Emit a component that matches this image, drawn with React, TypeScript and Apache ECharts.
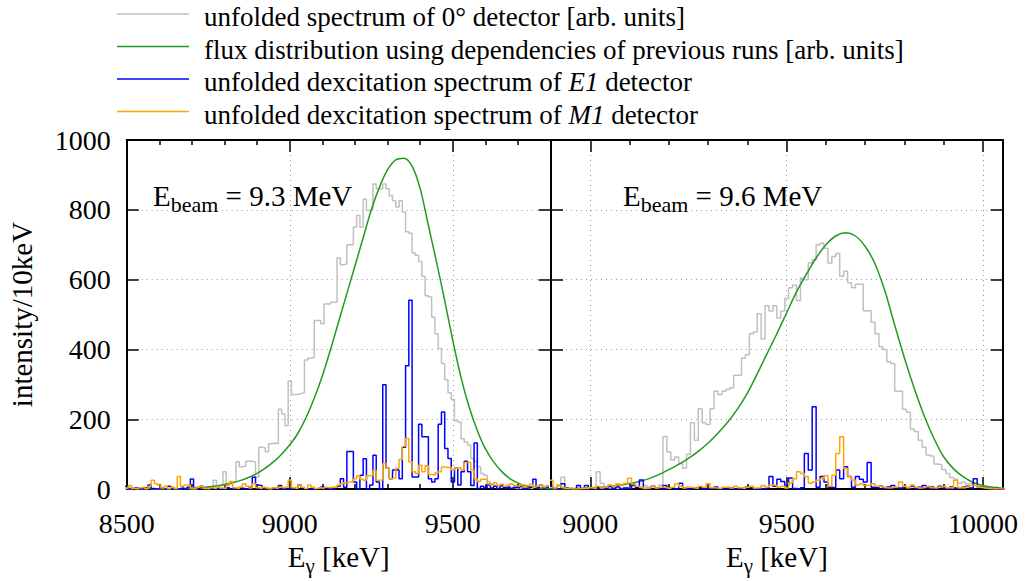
import React, { useEffect, useRef } from "react";
import * as echarts from "echarts";

// ---------- data ----------
const BIN = 10; // keV per histogram bin
const LEFT_FIRST = 8500; // centre of first bin, left panel (9.3 MeV)
const RIGHT_FIRST = 8900; // centre of first bin, right panel (9.6 MeV)

const leftGray = [
  2, 0, 3, 1, 0, 2, 0, 4, 1, 0,
  2, 3, 0, 1, 5, 2, 0, 3, 1, 4,
  0, 2, 6, 3, 2, 5, 6, 25, 6, 10,
  50, 12, 15, 20, 78, 64, 66, 80, 80, 78,
  35, 120, 118, 107, 130, 132, 130, 229, 215, 182,
  309, 271, 272, 274, 276, 370, 375, 377, 483, 483,
  474, 530, 530, 535, 535, 662, 643, 645, 700, 700,
  751, 784, 751, 831, 798, 800, 874, 860, 860, 874,
  860, 840, 826, 808, 826, 794, 737, 733, 676, 670,
  652, 610, 554, 550, 492, 445, 403, 360, 313, 276,
  257, 196, 192, 144, 135, 126, 88, 80, 64, 45,
  40, 22, 15, 10, 8, 6, 4, 7, 3, 5,
  2, 4, 6, 3, 2, 5, 3, 1, 4, 2,
];
const leftBlue = [
  8, 2, 0, 3, 0, 1, 4, 12, 2, 0,
  1, 3, 0, 8, 2, 0, 1, 3, 0, 5,
  29, 2, 0, 8, 1, 0, 3, 0, 2, 0,
  1, 4, 0, 2, 0, 3, 1, 0, 5, 34,
  12, 10, 0, 2, 0, 1, 3, 10, 0, 2,
  0, 3, 1, 12, 4, 0, 2, 0, 1, 3,
  6, 0, 2, 1, 4, 8, 30, 5, 108, 108,
  20, 0, 40, 87, 0, 12, 97, 20, 0, 299,
  60, 30, 55, 55, 30, 120, 353, 541, 35, 35,
  186, 150, 150, 30, 20, 30, 186, 221, 116, 88,
  20, 60, 12, 50, 80, 50, 10, 132, 2, 8,
  4, 12, 3, 8, 2, 10, 4, 6, 2, 5,
  3, 8, 2, 4, 6, 28, 3, 12, 4, 6,
];
const leftOrange = [
  3, 10, 2, 0, 4, 6, 2, 8, 25, 15,
  10, 3, 8, 2, 5, 2, 36, 8, 12, 12,
  3, 0, 5, 8, 2, 0, 4, 2, 6, 3,
  2, 10, 22, 4, 2, 6, 15, 8, 3, 15,
  4, 2, 6, 3, 0, 4, 2, 5, 3, 6,
  25, 4, 2, 12, 5, 2, 12, 6, 2, 4,
  2, 5, 4, 6, 5, 12, 15, 18, 20, 22,
  30, 38, 28, 25, 38, 38, 54, 25, 26, 73,
  60, 30, 32, 60, 85, 123, 145, 78, 50, 45,
  68, 50, 67, 42, 40, 46, 50, 63, 62, 62,
  55, 60, 62, 55, 76, 76, 55, 30, 22, 28,
  28, 15, 12, 18, 10, 14, 8, 12, 15, 10,
  8, 12, 6, 10, 14, 5, 8, 12, 6, 10,
];
// flux curve, read every 25 keV
const leftGreenE = [
  8600, 8625, 8650, 8675, 8700, 8725, 8750, 8775, 8800, 8825, 8850, 8875, 8900, 8925, 8950, 8975,
  9000, 9025, 9050, 9075, 9100, 9125, 9150, 9175, 9200, 9225, 9250, 9275, 9300, 9325, 9350, 9375,
  9400, 9425, 9450, 9475, 9500, 9525, 9550, 9575, 9600, 9625, 9650, 9675, 9700, 9725, 9750, 9775, 9800,
];
const leftGreenV = [
  0, 0.5, 1, 1.5, 2, 4, 6, 9, 13, 18, 25, 34, 45, 60, 78, 100,
  127, 160, 205, 260, 325, 400, 480, 560, 640, 720, 800, 865, 915, 943, 948, 925,
  860, 755, 650, 540, 425, 320, 235, 168, 115, 78, 50, 30, 17, 9, 5, 2, 1,
];

const rightGray = [
  5, 2, 8, 34, 3, 0, 2, 4, 1, 3,
  2, 5, 50, 17, 6, 3, 5, 2, 4, 6,
  3, 8, 5, 4, 10, 6, 8, 4, 12, 151,
  106, 83, 92, 73, 60, 100, 190, 140, 230, 190,
  185, 230, 280, 270, 280, 285, 290, 326, 326, 375,
  385, 445, 450, 502, 430, 525, 510, 525, 490, 510,
  546, 577, 584, 540, 605, 600, 648, 657, 700, 704,
  690, 648, 666, 675, 610, 624, 591, 577, 587, 587,
  511, 511, 478, 445, 408, 400, 365, 360, 280, 280,
  229, 220, 172, 165, 140, 120, 98, 95, 72, 70,
  56, 45, 33, 28, 17, 20, 15, 17, 10, 8,
  10, 6, 4, 5, 3, 2,
];
const rightBlue = [
  8, 2, 0, 15, 3, 0, 2, 10, 0, 10,
  2, 0, 4, 1, 0, 8, 2, 6, 0, 3,
  2, 12, 4, 26, 2, 0, 8, 3, 0, 10,
  2, 4, 0, 17, 3, 0, 2, 4, 5, 1,
  0, 3, 6, 0, 2, 1, 4, 0, 2, 3,
  6, 5, 0, 2, 1, 3, 36, 8, 28, 22,
  10, 32, 2, 0, 4, 102, 55, 236, 5, 36,
  20, 5, 4, 55, 30, 64, 36, 5, 36, 28,
  20, 76, 5, 3, 8, 2, 6, 10, 4, 2,
  6, 3, 8, 2, 5, 10, 3, 6, 2, 8,
  4, 0, 6, 3, 2, 5, 8, 3, 30, 5,
  3, 2, 0, 2, 0, 1,
];
const rightOrange = [
  25, 3, 12, 5, 2, 4, 0, 2, 3, 1,
  4, 2, 8, 3, 6, 12, 8, 15, 10, 17,
  31, 15, 8, 5, 2, 4, 8, 3, 6, 4,
  2, 5, 15, 8, 3, 6, 4, 2, 8, 5,
  15, 4, 3, 2, 5, 6, 3, 8, 4, 2,
  5, 8, 3, 4, 10, 6, 12, 10, 5, 8,
  3, 18, 30, 50, 45, 36, 17, 20, 25, 30,
  38, 8, 40, 102, 150, 59, 36, 26, 12, 15,
  10, 12, 15, 8, 6, 4, 3, 5, 6, 20,
  8, 4, 12, 6, 3, 5, 8, 4, 3, 6,
  8, 4, 3, 25, 4, 3, 6, 10, 12, 5,
  3, 2, 0, 1, 0, 0,
];
const rightGreenE = [
  8900, 8925, 8950, 8975, 9000, 9025, 9050, 9075, 9100, 9125, 9150, 9175, 9200, 9225, 9250, 9275,
  9300, 9325, 9350, 9375, 9400, 9425, 9450, 9475, 9500, 9525, 9550, 9575, 9600, 9625, 9650, 9675,
  9700, 9725, 9750, 9775, 9800, 9825, 9850, 9875, 9900, 9925, 9950, 9975, 10000, 10025, 10050,
];
const rightGreenV = [
  0, 0.5, 1, 2, 3, 5, 8, 11, 16, 22, 30, 42, 56, 71, 88, 108,
  132, 160, 192, 230, 275, 330, 388, 445, 505, 565, 615, 662, 700, 725, 734, 725,
  695, 645, 568, 470, 375, 288, 210, 145, 92, 58, 35, 19, 10, 5, 2,
];

const LEFT_X_LABELS = [8500, 9000, 9500];
const RIGHT_X_LABELS = [9000, 9500, 10000];
const LEFT_MAJOR = [9000, 9500];
const RIGHT_MAJOR = [9000, 9500, 10000];
const LEFT_MINOR = [8600, 8700, 8800, 8900, 9100, 9200, 9300, 9400, 9600, 9700];
const RIGHT_MINOR = [9100, 9200, 9300, 9400, 9600, 9700, 9800, 9900];

const SERIES_NAMES = [
  "unfolded spectrum of 0° detector [arb. units]",
  "flux distribution using dependencies of previous runs [arb. units]",
  "unfolded dexcitation spectrum of E1 detector",
  "unfolded dexcitation spectrum of M1 detector",
];

// ---------- styling ----------
const FONT = "'Liberation Serif', 'Times New Roman', serif";
const FS_TICK = 28;
const FS_NAME = 29;
const FS_LEG = 27;
const GRAY = "#c0c0c0";
const GREEN = "#229922";
const BLUE = "#0000ff";
const ORANGE = "#ffa500";

function steps(first: number, vals: number[]) {
  const pts = vals.map((v, i) => [first - BIN / 2 + i * BIN, v]);
  pts.push([first - BIN / 2 + vals.length * BIN, vals[vals.length - 1]]);
  return pts;
}

function pairs(xs: number[], ys: number[]) {
  return xs.map((x, i) => [x, ys[i]]);
}

const plain = (v: number) => String(v);
const frameLine = { show: true, onZero: false, lineStyle: { color: "#000", width: 2 } };
const dotted = { show: true, lineStyle: { color: "#9a9a9a", width: 1, type: [1, 4] } };

function xAxes(grid: number, min: number, max: number, labels: number[], major: number[], minor: number[]) {
  const base = { type: "value", gridIndex: grid, min, max };
  const tick = (vals: number[], len: number) => ({
    show: true,
    inside: true,
    length: len,
    customValues: vals,
    lineStyle: { color: "#000", width: 1.5 },
  });
  return [
    {
      ...base,
      position: "bottom",
      axisLine: frameLine,
      axisTick: tick(major, 12),
      axisLabel: { customValues: labels, formatter: plain, fontFamily: FONT, fontSize: FS_TICK, color: "#000", margin: 20 },
      splitLine: dotted,
      name: "{n|E}{s|γ}{n| [keV]}",
      nameLocation: "middle",
      nameGap: 48,
      nameTextStyle: {
        fontFamily: FONT,
        color: "#000",
        rich: {
          n: { fontFamily: FONT, fontSize: FS_NAME, color: "#000", lineHeight: 34, verticalAlign: "top" },
          s: { fontFamily: FONT, fontSize: 21, color: "#000", lineHeight: 21, verticalAlign: "bottom" },
        },
      },
    },
    { ...base, position: "bottom", axisLine: { show: false, onZero: false }, axisTick: tick(minor, 5), axisLabel: { show: false }, splitLine: { show: false } },
    { ...base, position: "top", axisLine: frameLine, axisTick: tick(major, 12), axisLabel: { show: false }, splitLine: { show: false } },
    { ...base, position: "top", axisLine: { show: false, onZero: false }, axisTick: tick(minor, 5), axisLabel: { show: false }, splitLine: { show: false } },
  ];
}

function yAxis(grid: number, position: string, labels: boolean, split: boolean, withName: boolean) {
  const ax: any = {
    type: "value",
    gridIndex: grid,
    position,
    min: 0,
    max: 1000,
    interval: 200,
    axisLine: frameLine,
    axisTick: { show: true, inside: true, length: 12, lineStyle: { color: "#000", width: 1.5 } },
    axisLabel: labels ? { formatter: plain, fontFamily: FONT, fontSize: FS_TICK, color: "#000", margin: 16 } : { show: false },
    splitLine: split ? dotted : { show: false },
  };
  if (withName) {
    ax.name = "intensity/10keV";
    ax.nameLocation = "middle";
    ax.nameRotate = 90;
    ax.nameGap = 90;
    ax.nameTextStyle = { fontFamily: FONT, fontSize: FS_NAME, color: "#000", lineHeight: 30 };
  }
  return ax;
}

function hist(name: string, color: string, first: number, vals: number[], xi: number, yi: number) {
  return {
    name,
    type: "line",
    xAxisIndex: xi,
    yAxisIndex: yi,
    data: steps(first, vals),
    step: "end",
    showSymbol: false,
    symbol: "none",
    silent: true,
    lineStyle: { color, width: 1.5 },
    itemStyle: { color },
  };
}

function curve(name: string, xs: number[], ys: number[], xi: number, yi: number) {
  return {
    name,
    type: "line",
    xAxisIndex: xi,
    yAxisIndex: yi,
    data: pairs(xs, ys),
    smooth: 0.3,
    showSymbol: false,
    symbol: "none",
    silent: true,
    lineStyle: { color: GREEN, width: 1.5 },
    itemStyle: { color: GREEN },
  };
}

const richBeam = {
  n: { fontFamily: FONT, fontSize: FS_NAME, fill: "#000", lineHeight: 34, verticalAlign: "top" },
  s: { fontFamily: FONT, fontSize: 22, fill: "#000", lineHeight: 22, verticalAlign: "bottom" },
};
const richLegend = {
  n: { fontFamily: FONT, fontSize: FS_LEG, fill: "#000" },
  i: { fontFamily: FONT, fontSize: FS_LEG, fill: "#000", fontStyle: "italic" },
};

function legendGraphic() {
  const rows = [
    { y: 14, color: GRAY, text: "{n|unfolded spectrum of 0° detector [arb. units]}" },
    { y: 46.5, color: GREEN, text: "{n|flux distribution using dependencies of previous runs [arb. units]}" },
    { y: 79, color: BLUE, text: "{n|unfolded dexcitation spectrum of }{i|E1}{n| detector}" },
    { y: 111.5, color: ORANGE, text: "{n|unfolded dexcitation spectrum of }{i|M1}{n| detector}" },
  ];
  const els: any[] = [];
  rows.forEach((r) => {
    els.push({ type: "line", shape: { x1: 117, y1: r.y, x2: 189, y2: r.y }, style: { stroke: r.color, lineWidth: 1.5 }, silent: true });
    els.push({
      type: "text",
      x: 204,
      y: r.y + 3,
      style: { text: r.text, rich: richLegend, align: "left", verticalAlign: "middle", fill: "#000" },
      silent: true,
    });
  });
  return els;
}

export default function App() {
  const ref = useRef<HTMLDivElement>(null);
  useEffect(() => {
    document.body.style.margin = "0";
    if (!ref.current) return;
    const chart = echarts.init(ref.current, null, { renderer: "svg" });
    const option: any = {
      animation: false,
      backgroundColor: "#fff",
      grid: [
        { left: 126.7, top: 140, width: 424, height: 354.3, containLabel: false },
        { left: 551, top: 140, width: 451.7, height: 354.3, containLabel: false },
      ],
      xAxis: [
        ...xAxes(0, 8500, 9800, LEFT_X_LABELS, LEFT_MAJOR, LEFT_MINOR),
        ...xAxes(1, 8900, 10050, RIGHT_X_LABELS, RIGHT_MAJOR, RIGHT_MINOR),
      ],
      yAxis: [yAxis(0, "left", true, true, true), yAxis(0, "right", false, false, false), yAxis(1, "left", false, true, false), yAxis(1, "right", false, false, false)],
      series: [
        hist(SERIES_NAMES[0], GRAY, LEFT_FIRST, leftGray, 0, 0),
        curve(SERIES_NAMES[1], leftGreenE, leftGreenV, 0, 0),
        hist(SERIES_NAMES[2], BLUE, LEFT_FIRST, leftBlue, 0, 0),
        hist(SERIES_NAMES[3], ORANGE, LEFT_FIRST, leftOrange, 0, 0),
        hist(SERIES_NAMES[0], GRAY, RIGHT_FIRST, rightGray, 4, 2),
        curve(SERIES_NAMES[1], rightGreenE, rightGreenV, 4, 2),
        hist(SERIES_NAMES[2], BLUE, RIGHT_FIRST, rightBlue, 4, 2),
        hist(SERIES_NAMES[3], ORANGE, RIGHT_FIRST, rightOrange, 4, 2),
      ],
      graphic: [
        ...legendGraphic(),
        { type: "text", x: 153, y: 181, style: { text: "{n|E}{s|beam}{n| = 9.3 MeV}", rich: richBeam, align: "left", verticalAlign: "top" }, silent: true },
        { type: "text", x: 623, y: 181, style: { text: "{n|E}{s|beam}{n| = 9.6 MeV}", rich: richBeam, align: "left", verticalAlign: "top" }, silent: true },
      ],
    };
    chart.setOption(option);
    return () => chart.dispose();
  }, []);
  return <div ref={ref} style={{ width: 1029, height: 581, background: "#fff" }} />;
}
